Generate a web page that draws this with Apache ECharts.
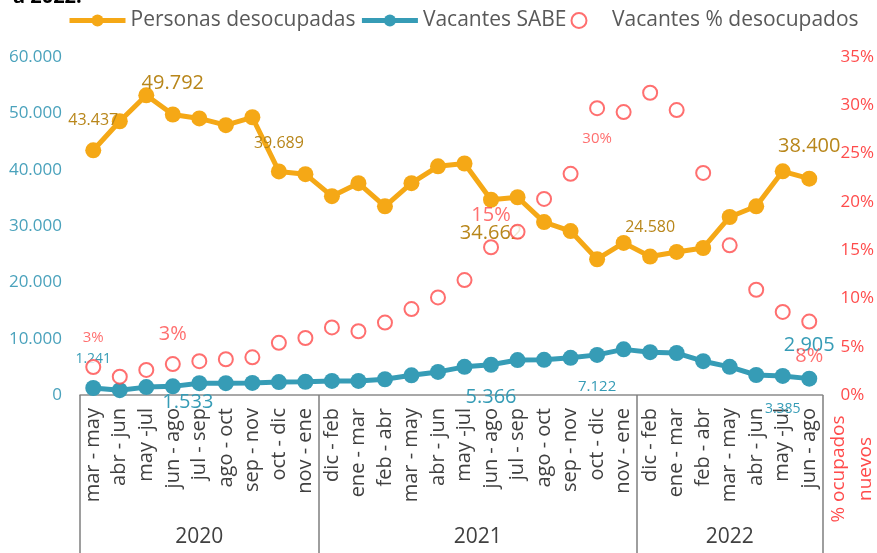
<!DOCTYPE html>
<html>
<head>
<meta charset="utf-8">
<script src="https://cdn.jsdelivr.net/npm/echarts@6/dist/echarts.min.js"></script>
<style>
  html, body { margin: 0; padding: 0; background: #fff; }
  #chart { width: 877px; height: 553px; }
</style>
</head>
<body>
<div id="chart"></div>
<script>
// periodos trimestrales móviles
const categories = [
  'mar - may', 'abr - jun', 'may -jul', 'jun - ago', 'jul - sep', 'ago - oct', 'sep - nov', 'oct - dic', 'nov - ene',
  'dic - feb', 'ene - mar', 'feb - abr', 'mar - may', 'abr - jun', 'may -jul', 'jun - ago', 'jul - sep', 'ago - oct', 'sep - nov', 'oct - dic', 'nov - ene',
  'dic - feb', 'ene - mar', 'feb - abr', 'mar - may', 'abr - jun', 'may -jul', 'jun - ago'
]
const yearLabels = ['2020', '2021', '2022']
const yearSizes = [9, 12, 7]

const desocupados = [43437, 48600, 53200, 49792, 49100, 47900, 49300, 39689, 39200, 35300, 37600, 33500, 37600, 40600,
  41100, 34662, 35100, 30700, 29100, 24100, 27000, 24580, 25400, 26100, 31600, 33500, 39700, 38400]
const vacantesSabe = [1241, 850, 1400, 1533, 2100, 2100, 2150, 2300, 2350, 2500, 2500, 2800, 3500, 4100,
  5000, 5366, 6200, 6250, 6600, 7122, 8100, 7600, 7450, 6000, 5000, 3550, 3385, 2905]
const vacantesPct = [0.029, 0.019, 0.026, 0.032, 0.035, 0.037, 0.039, 0.054, 0.059, 0.070, 0.066, 0.075, 0.089, 0.101,
  0.119, 0.153, 0.169, 0.203, 0.229, 0.297, 0.293, 0.313, 0.295, 0.230, 0.155, 0.109, 0.086, 0.076]

// etiquetas visibles: índice -> [dx, dy, tamaño]
const orangeLabels = { 0: [0, -30, 16], 3: [0, -31, 20], 7: [0, -28, 16], 15: [0, 34, 20], 21: [0, -29, 16], 27: [0, -32, 20] }
const tealLabels = { 0: [0, -29, 14], 3: [15, 16, 20], 15: [0, 33, 20], 19: [0, 32, 15], 26: [0, 33, 14], 27: [0, -33, 20] }
const redLabels = { 0: [0, -29, 15], 3: [0, -30, 20], 15: [0, -32, 20], 19: [0, 31, 15], 27: [0, 35, 20] }

const ORANGE = '#F5A816'
const ORANGE_TXT = '#B8861A'
const TEAL = '#369CB6'
const RED = '#FF4B4B'
const GREY = '#404040'
const FONT = 'Open Sans'

function fmtMiles(v) {
  return String(Math.round(v)).replace(/\B(?=(\d{3})+(?!\d))/g, '.')
}

function withLabels(values, spec, color, fmt) {
  return values.map((v, i) => {
    const s = spec[i]
    if (!s) return v
    return {
      value: v,
      label: {
        show: true,
        position: 'inside',
        offset: [s[0], s[1]],
        fontSize: s[2],
        color: color,
        fontFamily: FONT,
        formatter: p => fmt(p.value)
      }
    }
  })
}

// límites de grupos por año
const bounds = [0]
yearSizes.forEach(n => bounds.push(bounds[bounds.length - 1] + n))
const centers = yearSizes.map((n, i) => bounds[i] + n / 2)

const chart = echarts.init(document.getElementById('chart'))

const option = {
  animation: false,
  textStyle: { fontFamily: FONT },
  title: {
    text: 'a 2022.',
    left: 8,
    top: -18,
    textStyle: { fontSize: 20, fontWeight: 'bold', color: '#000', fontFamily: FONT }
  },
  legend: {
    left: 62,
    top: 5,
    itemWidth: 56,
    itemHeight: 15,
    itemGap: 4,
    textStyle: { fontSize: 21, color: '#595959', fontFamily: FONT },
    data: [
      { name: 'Personas desocupadas', lineStyle: { width: 5 } },
      { name: 'Vacantes SABE', lineStyle: { width: 5 } },
      { name: 'Vacantes % desocupados' }
    ]
  },
  grid: { left: 80, right: 50, top: 57, bottom: 158 },
  xAxis: [
    {
      type: 'category',
      data: categories,
      boundaryGap: true,
      axisLine: { lineStyle: { color: '#8c8c8c', width: 1.5 } },
      axisTick: { show: false },
      axisLabel: {
        interval: 0,
        rotate: 90,
        margin: 13,
        fontSize: 20,
        color: GREY,
        fontFamily: FONT
      }
    },
    {
      type: 'value',
      position: 'bottom',
      min: 0,
      max: categories.length,
      splitLine: { show: false },
      axisLine: { show: false },
      axisTick: {
        show: true,
        customValues: bounds,
        length: 160,
        lineStyle: { color: '#7f7f7f', width: 1.5 }
      },
      axisLabel: {
        customValues: centers,
        margin: 132,
        fontSize: 21,
        color: GREY,
        fontFamily: FONT,
        formatter: v => {
          const k = centers.findIndex(c => Math.abs(c - v) < 1e-6)
          return k >= 0 ? yearLabels[k] : ''
        }
      }
    }
  ],
  yAxis: [
    {
      type: 'value',
      min: 0,
      max: 60000,
      interval: 10000,
      splitLine: { show: false },
      axisLine: { show: false },
      axisTick: { show: false },
      axisLabel: { margin: 18, fontSize: 17, color: '#4AA2BC', fontFamily: FONT, formatter: fmtMiles }
    },
    {
      type: 'value',
      min: 0,
      max: 0.35,
      interval: 0.05,
      splitLine: { show: false },
      axisLine: { show: false },
      axisTick: { show: false },
      axisLabel: {
        margin: 18,
        fontSize: 17,
        color: RED,
        fontFamily: FONT,
        formatter: v => Math.round(v * 100) + '%'
      }
    }
  ],
  graphic: [
    {
      type: 'text',
      x: 852,
      y: 469,
      rotation: Math.PI / 2,
      style: {
        text: '% ocupados\nnuevos',
        fill: RED,
        fontSize: 19,
        fontFamily: FONT,
        lineHeight: 27,
        align: 'center',
        verticalAlign: 'middle'
      }
    }
  ],
  series: [
    {
      name: 'Personas desocupadas',
      type: 'line',
      xAxisIndex: 0,
      yAxisIndex: 0,
      data: withLabels(desocupados, orangeLabels, ORANGE_TXT, fmtMiles),
      symbol: 'circle',
      symbolSize: 16,
      lineStyle: { color: ORANGE, width: 5 },
      itemStyle: { color: ORANGE },
      z: 3
    },
    {
      name: 'Vacantes SABE',
      type: 'line',
      xAxisIndex: 0,
      yAxisIndex: 0,
      data: withLabels(vacantesSabe, tealLabels, TEAL, fmtMiles),
      symbol: 'circle',
      symbolSize: 16,
      lineStyle: { color: TEAL, width: 5 },
      itemStyle: { color: TEAL },
      z: 3
    },
    {
      name: 'Vacantes % desocupados',
      type: 'scatter',
      xAxisIndex: 0,
      yAxisIndex: 1,
      data: withLabels(vacantesPct, redLabels, RED, v => Math.round(v * 100) + '%'),
      symbol: 'emptyCircle',
      symbolSize: 14,
      itemStyle: { color: RED, borderColor: RED, borderWidth: 2 },
      z: 4
    }
  ]
}

chart.setOption(option)
</script>
</body>
</html>
